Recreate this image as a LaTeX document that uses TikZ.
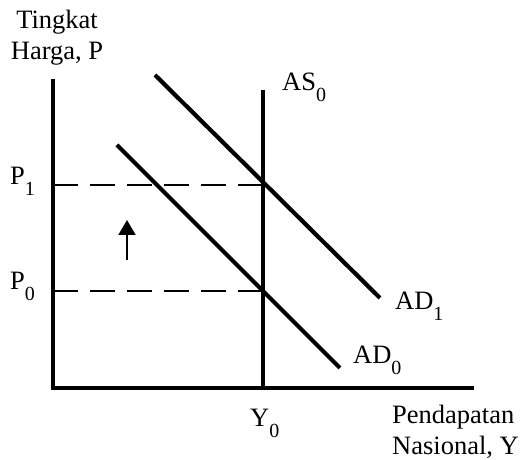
\documentclass[tikz,border=0pt]{standalone}
\usepackage{fontspec}
\setmainfont{Liberation Serif}
\usetikzlibrary{arrows.meta}
\newcommand{\lowidx}[1]{\raisebox{-11pt}{\fontsize{20}{20}\selectfont #1}}

\begin{document}
\begin{tikzpicture}[x=1pt,y=1pt,
  axis/.style={line width=4.5pt},
  curve/.style={line width=4.2pt},
  guide/.style={line width=2pt,dash pattern=on 25pt off 12pt},
  lbl/.style={font=\fontsize{26.5}{31}\selectfont,inner sep=0pt},
  moveup/.style={-{Triangle[width=17pt,length=15pt]},line width=2pt}]
  \useasboundingbox (0,0) rectangle (520,460);
  % axes
  \coordinate (O) at (53,72);
  \coordinate (ytop) at (53,381);
  \coordinate (xend) at (474,72);
  \draw[axis] (ytop) -- (O) -- (xend);
  % supply, vertical at Y0
  \coordinate (as0top) at (263,370);
  \coordinate (as0bot) at (263,72);
  \draw[curve] (as0top) -- (as0bot);
  % demand, before and after the shift
  \coordinate (ad1a) at (155,385); \coordinate (ad1b) at (380,162);
  \coordinate (ad0a) at (117,315); \coordinate (ad0b) at (340,92);
  \draw[curve] (ad1a) -- (ad1b);
  \draw[curve] (ad0a) -- (ad0b);
  % price levels
  \coordinate (p1) at (53,275); \coordinate (e1) at (263,275);
  \coordinate (p0) at (53,169); \coordinate (e0) at (263,169);
  \draw[guide] (p1) -- (e1);
  \draw[guide] (p0) -- (e0);
  % shift arrow
  \coordinate (up0) at (127,200); \coordinate (up1) at (127,240);
  \draw[moveup] (up0) -- (up1);
  % labels
  \node[lbl,align=center,anchor=base] (ylab) at (57,400) {Tingkat\\Harga, P};
  \node[lbl,align=left,anchor=base west] (xlab) at (392,5) {Pendapatan\\Nasional, Y};
  \node[lbl,anchor=base west] (aslab) at (282,369) {AS\lowidx{0}};
  \node[lbl,anchor=base west] (ad1lab) at (395,150) {AD\lowidx{1}};
  \node[lbl,anchor=base west] (ad0lab) at (353,96) {AD\lowidx{0}};
  \node[lbl,anchor=base west] (y0lab) at (250,33) {Y\lowidx{0}};
  \node[lbl,anchor=base west] (p1lab) at (10,275) {P\lowidx{1}};
  \node[lbl,anchor=base west] (p0lab) at (10,170) {P\lowidx{0}};
\end{tikzpicture}
\end{document}
